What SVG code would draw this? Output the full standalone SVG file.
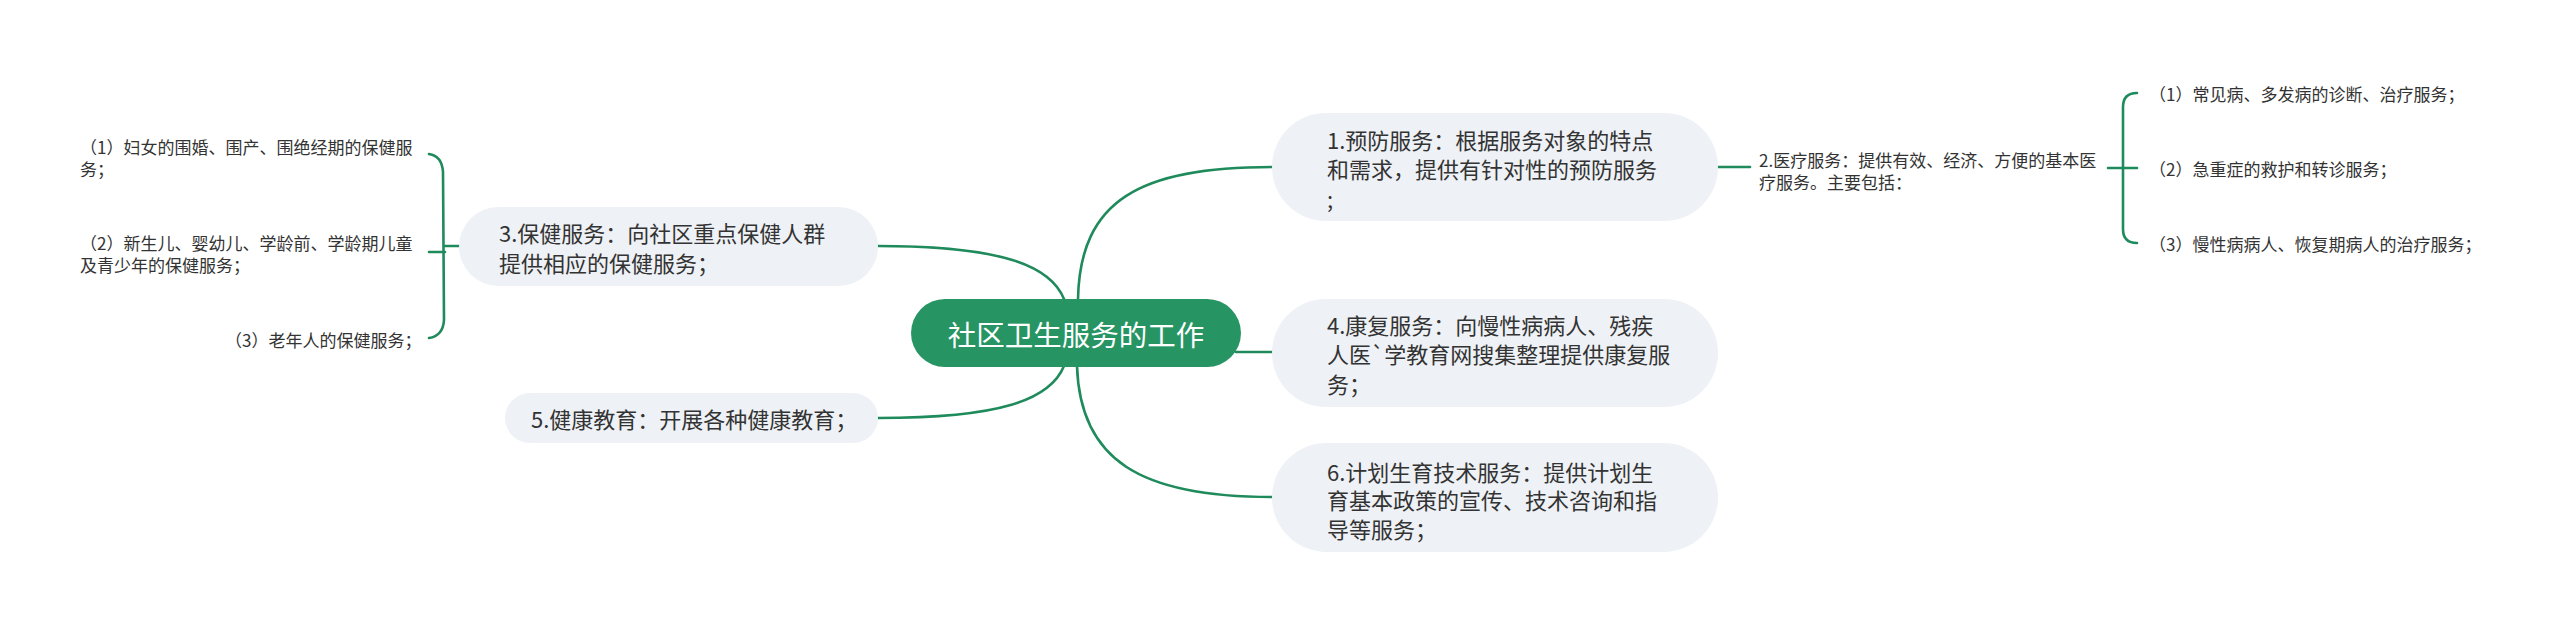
<svg xmlns="http://www.w3.org/2000/svg" width="2560" height="625" viewBox="0 0 2560 625">
<style>
text{font-family:"Noto Sans CJK SC","Noto Sans",sans-serif;fill:#333;dominant-baseline:central}
.main{font-size:22px}
.sub{font-size:17px}
.box{fill:#eef1f5}
.root{fill:#279463}
.rt{font-size:28.5px;fill:#fff}
.ln{fill:none;stroke:#1f8a5b;stroke-width:2.6;stroke-linecap:round}
</style>
<rect width="2560" height="625" fill="#fff"/>
<g id="connectors">
<path class="ln" d="M1078,299 C1080,200 1140,167 1272,167"/>
<path class="ln" d="M1064,299 C1050,265 1000,246 878,246"/>
<path class="ln" d="M1236,352 L1272,352"/>
<path class="ln" d="M1064,366 C1050,400 1000,418 878,418"/>
<path class="ln" d="M1077,366 C1080,460 1140,497 1272,497"/>
<path class="ln" d="M1718,167 L1750,167"/>
<path class="ln" d="M2108,168 L2137,168"/>
<path class="ln" d="M2137,93 Q2123,93 2123,107 L2123,229 Q2123,243 2137,243"/>
<path class="ln" d="M459,246 L445,246"/>
<path class="ln" d="M445,252 L429,252"/>
<path class="ln" d="M429,154 Q442,156 443,172 L444,320 Q443,336 429,338"/>
</g>
<g id="root">
<rect class="root" x="911" y="299" width="330" height="68" rx="34"/>
<text class="rt" x="1076" y="333" text-anchor="middle">社区卫生服务的工作</text>
</g>
<g id="n1">
<rect class="box" x="1272" y="113" width="446" height="108" rx="54"/>
<text class="main" x="1327" y="139">1.预防服务：根据服务对象的特点</text>
<text class="main" x="1327" y="168">和需求，提供有针对性的预防服务</text>
<text class="main" x="1327" y="198">;</text>
</g>
<g id="n2">
<text class="sub" x="1759" y="159">2.医疗服务：提供有效、经济、方便的基本医</text>
<text class="sub" x="1759" y="181">疗服务。主要包括：</text>
</g>
<g id="n2a"><text class="sub" x="2149" y="93">（1）常见病、多发病的诊断、治疗服务；</text></g>
<g id="n2b"><text class="sub" x="2149" y="168">（2）急重症的救护和转诊服务；</text></g>
<g id="n2c"><text class="sub" x="2149" y="243">（3）慢性病病人、恢复期病人的治疗服务；</text></g>
<g id="n3">
<rect class="box" x="459" y="207" width="419" height="79" rx="39.5"/>
<text class="main" x="499" y="232">3.保健服务：向社区重点保健人群</text>
<text class="main" x="499" y="262">提供相应的保健服务；</text>
</g>
<g id="n3a">
<text class="sub" x="80" y="146">（1）妇女的围婚、围产、围绝经期的保健服</text>
<text class="sub" x="80" y="168">务；</text>
</g>
<g id="n3b">
<text class="sub" x="80" y="242">（2）新生儿、婴幼儿、学龄前、学龄期儿童</text>
<text class="sub" x="80" y="264">及青少年的保健服务；</text>
</g>
<g id="n3c"><text class="sub" x="225" y="339">（3）老年人的保健服务；</text></g>
<g id="n4">
<rect class="box" x="1272" y="299" width="446" height="108" rx="54"/>
<text class="main" x="1327" y="324">4.康复服务：向慢性病病人、残疾</text>
<text class="main" x="1327" y="353">人医`学教育网搜集整理提供康复服</text>
<text class="main" x="1327" y="383">务；</text>
</g>
<g id="n5">
<rect class="box" x="505" y="393" width="373" height="50" rx="25"/>
<text class="main" x="531" y="418">5.健康教育：开展各种健康教育；</text>
</g>
<g id="n6">
<rect class="box" x="1272" y="443" width="446" height="109" rx="54.5"/>
<text class="main" x="1327" y="471">6.计划生育技术服务：提供计划生</text>
<text class="main" x="1327" y="499">育基本政策的宣传、技术咨询和指</text>
<text class="main" x="1327" y="528">导等服务；</text>
</g>
</svg>
